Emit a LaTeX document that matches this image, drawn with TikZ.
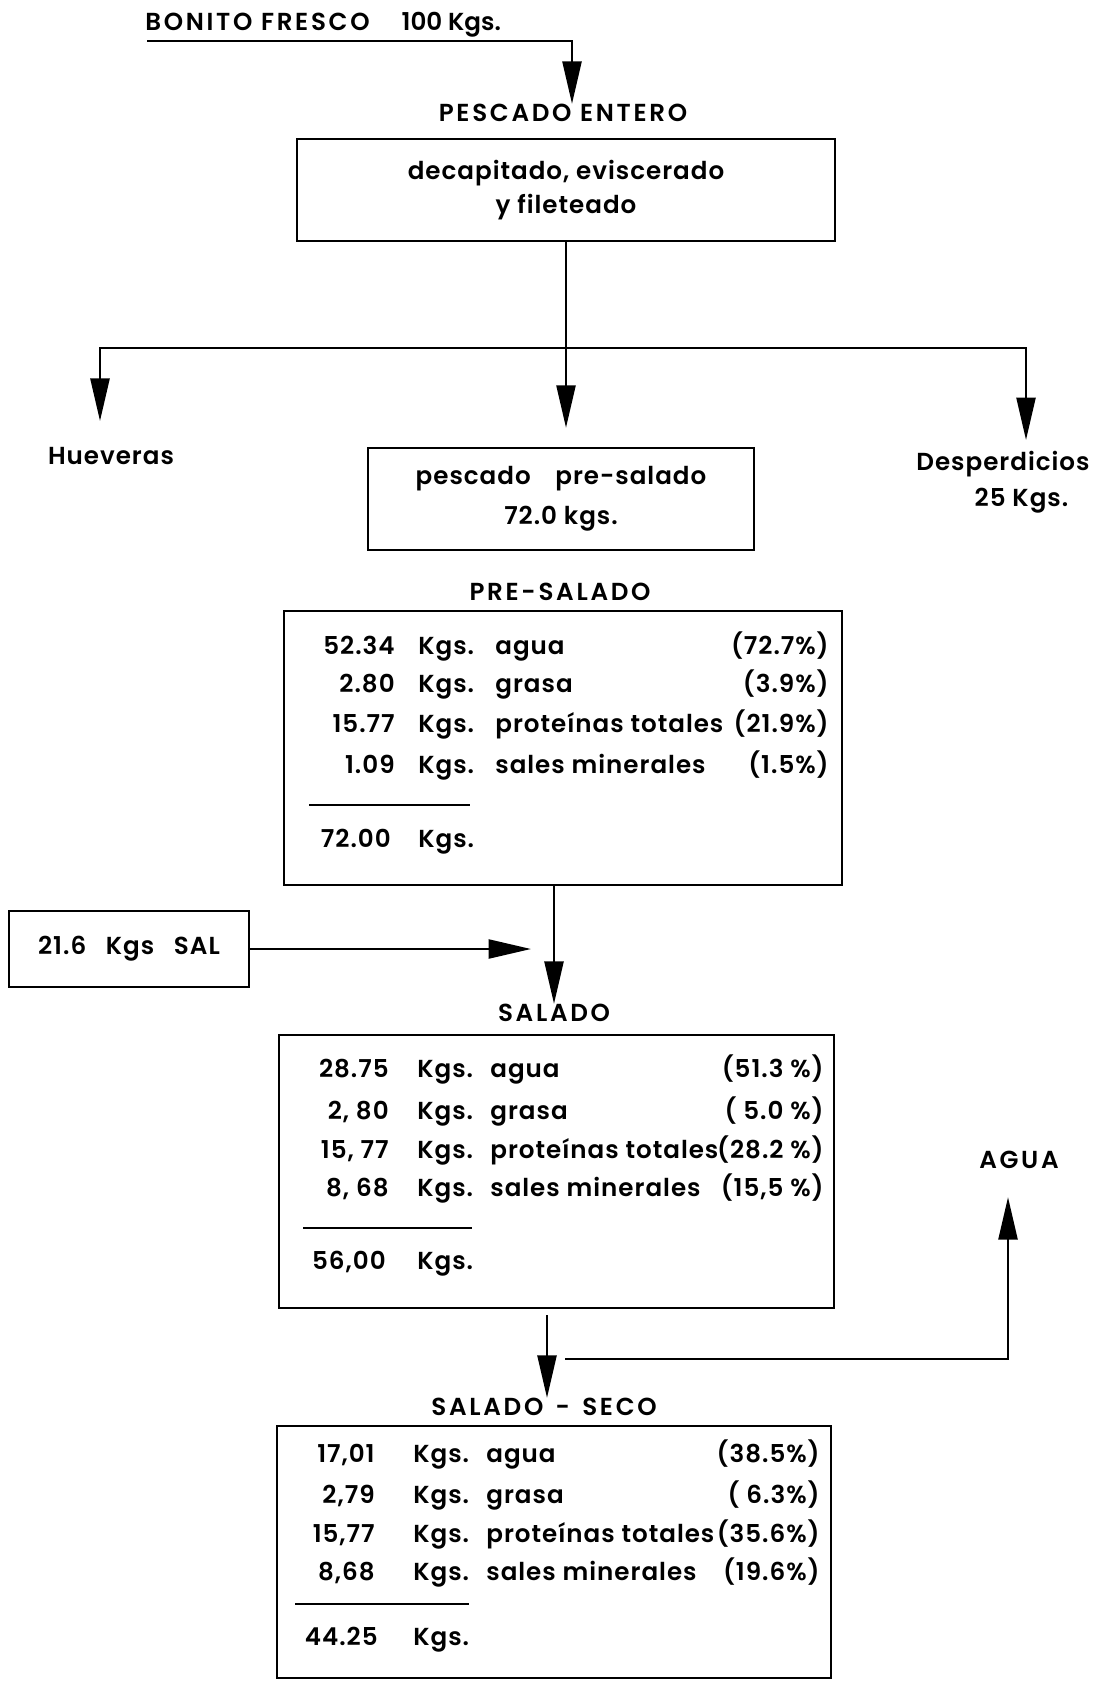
\documentclass[tikz,border=0pt]{standalone}
\usepackage{fontspec}
\setmainfont{Poppins SemiBold}[LetterSpace=4]
\usetikzlibrary{arrows.meta,positioning}

\tikzset{
  box/.style={draw, line width=1.4pt},
  flow/.style={line width=1.4pt, -{Triangle[length=8.5mm,width=3.8mm]}},
  rule/.style={line width=1.4pt},
  head/.style={font=\fontsize{14}{17}\selectfont\addfontfeature{LetterSpace=11}},
}

\begin{document}
\begin{tikzpicture}[x=0.2mm,y=-0.2mm,
  every node/.style={inner sep=0pt, font=\fontsize{14}{17}\selectfont}]
\useasboundingbox (0,0) rectangle (1098,1681);

% entrada y limpieza
\node (bonito) at (145,25) [anchor=west, head] {BONITO FRESCO\hspace{1.3em}{\addfontfeature{LetterSpace=0}100 Kgs.}};
\node (entero) at (563,113) [head] {PESCADO ENTERO};
\node (cut) at (566,190) [box, minimum width=107.6mm, minimum height=20.4mm,
  align=center, font=\fontsize{14}{19.4}\selectfont] {decapitado, eviscerado\\y fileteado};
\coordinate (in) at (147,41);
\draw [flow] (in) -| ([xshift=1.8mm]entero.north);

% reparto
\node (hue) at (111,456) {Hueveras};
\node (des) at (1003,482) [align=center, font=\fontsize{14}{20.5}\selectfont] {Desperdicios\\\hspace{1.5em}25 Kgs.};
\node (pre) at (561,499) [box, minimum width=77.2mm, minimum height=20.4mm,
  align=center, font=\fontsize{14}{22.8}\selectfont] {pescado\hspace{1em}pre-salado\\72.0 kgs.};
\coordinate (split) at (565,348);
\coordinate (hue-in) at (100,421);
\coordinate (des-in) at (1026,440);
\draw [flow, shorten >=3.8mm] (cut.south) -- (cut.south |- pre.north);
\draw [flow] (split) -| (hue-in);
\draw [flow] (split) -| (des-in);

% pre-salado
\node (presal) at (560,592) [head] {PRE-SALADO};
\node (tab1) at (563,748) [box, minimum width=111.6mm, minimum height=54.8mm] {};
\foreach \y/\n/\w/\p [count=\i] in {650/52.34/agua/(72.7\%), 688/2.80/grasa/(3.9\%),
  728/15.77/proteínas totales/(21.9\%), 769/1.09/sales minerales/(1.5\%)}{
  \node (a\i-n) at (395,\y) [anchor=mid east] {\n};
  \node (a\i-k) at (418,\y) [anchor=mid west] {Kgs.};
  \node (a\i-w) at (495,\y) [anchor=mid west] {\w};
  \node (a\i-p) at (829,\y) [anchor=mid east] {\p};
}
\draw [rule] (309,805) -- (470,805);
\node (a-tot) at (391,843) [anchor=mid east] {72.00};
\node (a-kgs) at (418,843) [anchor=mid west] {Kgs.};

% salado
\node (sal) at (129,949) [box, minimum width=48mm, minimum height=15.2mm] {21.6\hspace{0.8em}Kgs\hspace{0.8em}SAL};
\node (salado) at (554,1013) [head] {SALADO};
\draw [flow] (salado.north |- tab1.south) -- (salado.north);
\draw [flow, shorten >=4.6mm] (sal.east) -- (sal.east -| salado.north);
\node (tab2) at (556.5,1171.5) [box, minimum width=111mm, minimum height=54.6mm] {};
\foreach \y/\n/\w/\p [count=\i] in {1073/28.75/agua/(51.3 \%), 1115/{2, 80}/grasa/( 5.0 \%),
  1154/{15, 77}/proteínas totales/(28.2 \%), 1192/{8, 68}/sales minerales/{(15,5 \%)}}{
  \node (b\i-n) at (389,\y) [anchor=mid east] {\n};
  \node (b\i-k) at (417,\y) [anchor=mid west] {Kgs.};
  \node (b\i-w) at (490,\y) [anchor=mid west] {\w};
  \node (b\i-p) at (824,\y) [anchor=mid east] {\p};
}
\draw [rule] (303,1228) -- (472,1228);
\node (b-tot) at (386,1265) [anchor=mid east] {56,00};
\node (b-kgs) at (417,1265) [anchor=mid west] {Kgs.};

% secado
\node (agua) at (1019,1160) [head] {AGUA};
\node (seco) at (544,1407) [head] {SALADO\hspace{0.5em}-\hspace{0.5em}SECO};
\coordinate (drain) at (565,1359);
\draw [flow, shorten <=1.2mm] ([xshift=0.6mm]seco.north |- tab2.south) -- ([xshift=0.6mm]seco.north);
\draw [flow, shorten >=5.6mm] (drain) -| ([xshift=-2.2mm]agua.south);
\node (tab3) at (554,1552) [box, minimum width=110.8mm, minimum height=50.4mm] {};
\foreach \y/\n/\w/\p [count=\i] in {1458/{17,01}/agua/(38.5\%), 1499/{2,79}/grasa/( 6.3\%),
  1538/{15,77}/proteínas totales/(35.6\%), 1576/{8,68}/sales minerales/(19.6\%)}{
  \node (c\i-n) at (375,\y) [anchor=mid east] {\n};
  \node (c\i-k) at (413,\y) [anchor=mid west] {Kgs.};
  \node (c\i-w) at (486,\y) [anchor=mid west] {\w};
  \node (c\i-p) at (820,\y) [anchor=mid east] {\p};
}
\draw [rule] (295,1604) -- (469,1604);
\node (c-tot) at (378,1641) [anchor=mid east] {44.25};
\node (c-kgs) at (413,1641) [anchor=mid west] {Kgs.};
\end{tikzpicture}
\end{document}
